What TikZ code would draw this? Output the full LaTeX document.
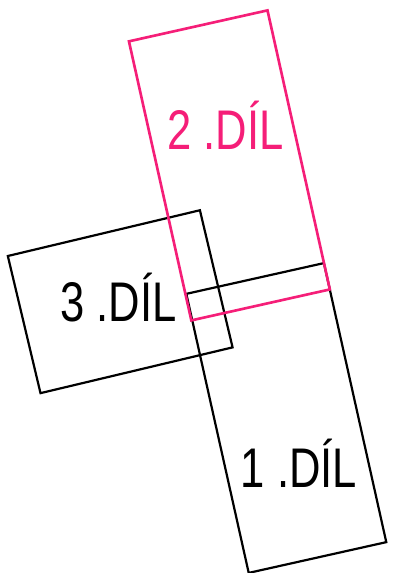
\documentclass[tikz,border=0pt]{standalone}
\definecolor{dilpink}{RGB}{245, 30, 120}
\usepackage{fontspec}
\newfontfamily\dilfont[FakeStretch=0.78]{Liberation Sans}
\usepackage{tikz}
\usetikzlibrary{positioning}

\begin{document}
\begin{tikzpicture}[x=0.02cm, y=0.02cm,
    dilbox/.style={draw, line width=1.25pt, inner sep=0pt, outer sep=0pt},
    dillabel/.style={anchor=base, inner sep=0pt, font=\dilfont\fontsize{31.8}{36}\selectfont}]
  \useasboundingbox (0,0) rectangle (393,573);
  \node[dilbox, rotate=13.4, minimum width=3.95cm, minimum height=2.82cm] (dil3) at (120.2,271.3) {};
  \node[dilbox, rotate=12.6, minimum width=2.82cm, minimum height=5.72cm] (dil1) at (286.3,155) {};
  \node[dilbox, draw=dilpink, line width=1.5pt, rotate=12.6, minimum width=2.84cm, minimum height=5.72cm] (dil2) at (229.4,407.6) {};
  \node[dillabel, text=dilpink] (dil2txt) at (225.5,423) {2 .DÍL};
  \node[dillabel] (dil3txt) at (118.5,251.5) {3 .DÍL};
  \node[dillabel] (dil1txt) at (299,85) {1 .DÍL};
\end{tikzpicture}
\end{document}
